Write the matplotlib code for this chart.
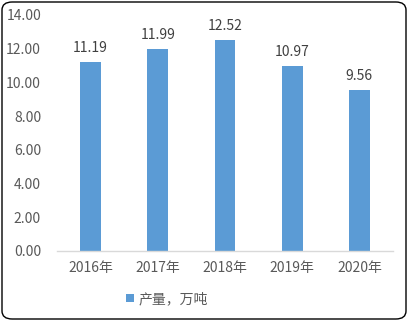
import matplotlib
matplotlib.use("Agg")
import matplotlib.pyplot as plt
from matplotlib.patches import FancyBboxPatch

plt.rcParams['font.family'] = ['Noto Sans CJK SC', 'DejaVu Sans']

years = ["2016年", "2017年", "2018年", "2019年", "2020年"]
values = [11.19, 11.99, 12.52, 10.97, 9.56]
series_name = "产量，万吨"
yticks = [0, 2, 4, 6, 8, 10, 12, 14]

color = "#5B9BD5"
text_color = "#595959"

fig = plt.figure(figsize=(4.08, 3.21), dpi=100)
ax = fig.add_axes([57/408, 1 - 251/321, 336/408, 236/321])

x = list(range(len(years)))
bars = ax.bar(x, values, width=0.31, color=color, label=series_name, zorder=2)
for xi, v in zip(x, values):
    ax.annotate(f"{v:.2f}", (xi, v), xytext=(0, 5), textcoords="offset points",
                ha="center", va="bottom", fontsize=10, color="#404040")

ax.set_xlim(-0.5, len(years) - 0.5)
ax.set_ylim(0, 14)
ax.set_yticks(yticks)
ax.set_yticklabels([f"{t:.2f}" for t in yticks], fontsize=10, color=text_color)
ax.set_xticks(x)
ax.set_xticklabels(years, fontsize=10, color=text_color)
ax.tick_params(axis="both", length=0)
ax.tick_params(axis="y", pad=11.5)
ax.tick_params(axis="x", pad=7)
for s in ["top", "right", "left"]:
    ax.spines[s].set_visible(False)
ax.spines["bottom"].set_color("#D9D9D9")
ax.spines["bottom"].set_linewidth(1)

leg = fig.legend(handles=[bars], labels=[series_name], loc="center",
                 bbox_to_anchor=(167/408, 1 - 299/321), frameon=False,
                 fontsize=10, handlelength=0.55, handleheight=0.55, handletextpad=0.3)
for t in leg.get_texts():
    t.set_color(text_color)

border = FancyBboxPatch((2/408, 2/321), 404/408, 317/321,
                        boxstyle="round,pad=0,rounding_size=0.025",
                        transform=fig.transFigure, fill=False,
                        edgecolor="black", linewidth=1)
fig.patches.append(border)

fig.savefig("out.png", dpi=100)
